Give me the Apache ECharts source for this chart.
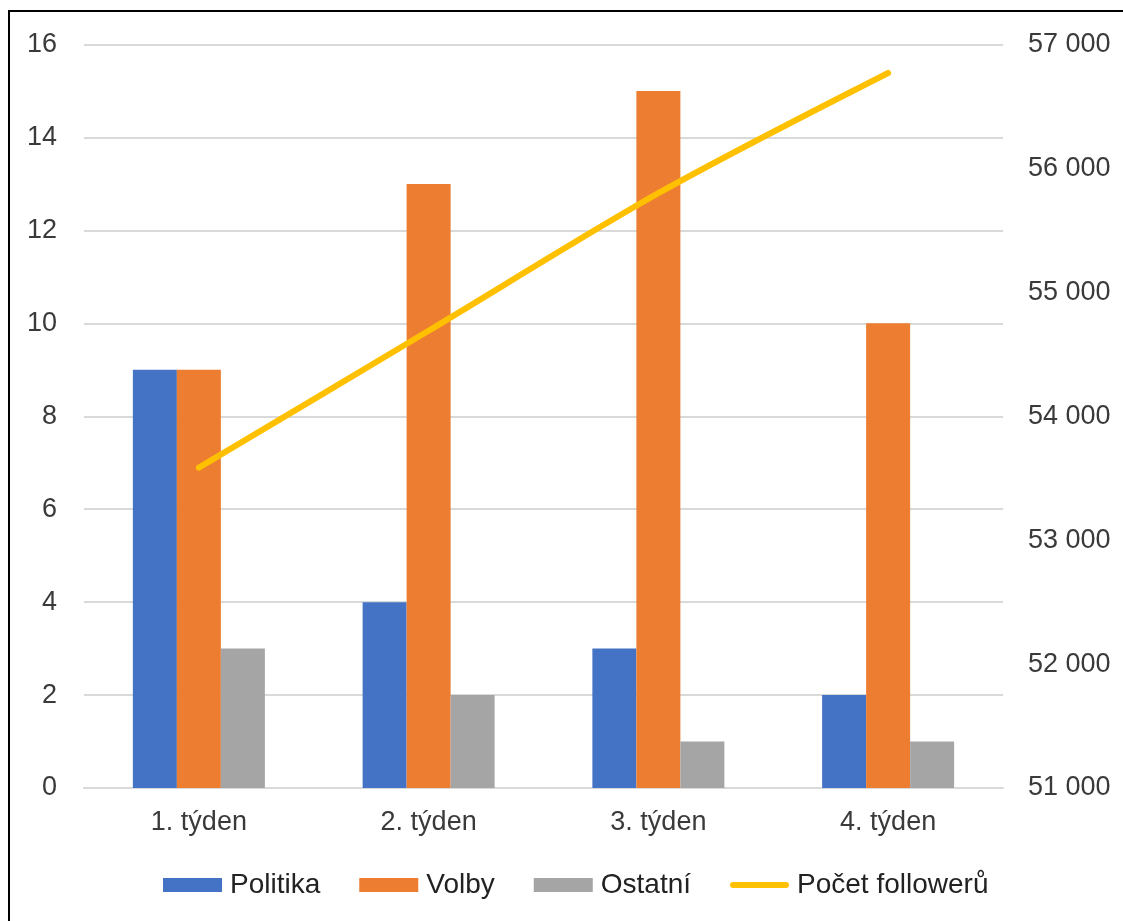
<!DOCTYPE html>
<html>
<head>
<meta charset="utf-8">
<title>Příspěvky a počet followerů</title>
<script src="https://cdn.jsdelivr.net/npm/echarts@6/dist/echarts.min.js"></script>
<style>
  html, body { margin: 0; padding: 0; background: #ffffff; }
  #chart { width: 1123px; height: 921px; }
</style>
</head>
<body>
<div id="chart"></div>
<script>
// Weekly post counts by topic and the follower count
const weeks = ['1. týden', '2. týden', '3. týden', '4. týden'];
const politika = [9, 4, 3, 2];
const volby = [9, 13, 15, 10];
const ostatni = [3, 2, 1, 1];
const followers = [53585, 54690, 55800, 56770];

const seriesNames = ['Politika', 'Volby', 'Ostatní', 'Počet followerů'];
const colors = ['#4472C4', '#ED7D31', '#A5A5A5', '#FFC000'];

const FONT = '"Liberation Sans", Arial, sans-serif';
const AXIS_TEXT = '#3a3a3a';
const GRID_LINE = '#d9d9d9';

// rounded bar used as the legend marker of the follower line
const LINE_ICON = 'path://M3,0 L57,0 A3,3 0 0 1 57,6 L3,6 A3,3 0 0 1 3,0 Z';

function spaced(v) {
  return String(Math.round(v)).replace(/\B(?=(\d{3})+(?!\d))/g, ' ');
}

const chart = echarts.init(document.getElementById('chart'), null, { renderer: 'canvas' });

chart.setOption({
  animation: false,
  backgroundColor: '#ffffff',
  color: colors,
  textStyle: { fontFamily: FONT },
  graphic: [{
    type: 'rect',
    silent: true,
    shape: { x: 9, y: 11, width: 1200, height: 1000 },
    style: { fill: 'none', stroke: '#000000', lineWidth: 2 }
  }],
  grid: { left: 84, right: 120, top: 44.5, bottom: 133, containLabel: false },
  legend: {
    left: 158,
    top: 866,
    itemWidth: 59,
    itemHeight: 14,
    itemGap: 39,
    data: [
      { name: seriesNames[0], icon: 'rect' },
      { name: seriesNames[1], icon: 'rect' },
      { name: seriesNames[2], icon: 'rect' },
      { name: seriesNames[3], icon: LINE_ICON, itemStyle: { color: colors[3] } }
    ],
    textStyle: { fontFamily: FONT, fontSize: 28, color: '#222222', padding: [0, 0, 0, 3] }
  },
  xAxis: {
    type: 'category',
    data: weeks,
    axisTick: { show: false },
    axisLine: { show: true, lineStyle: { color: GRID_LINE, width: 2 } },
    axisLabel: { fontFamily: FONT, fontSize: 27, color: AXIS_TEXT, margin: 21 }
  },
  yAxis: [{
    type: 'value',
    min: 0,
    max: 16,
    interval: 2,
    axisLine: { show: false },
    axisTick: { show: false },
    splitLine: { lineStyle: { color: GRID_LINE, width: 2 } },
    axisLabel: { fontFamily: FONT, fontSize: 27, color: AXIS_TEXT, margin: 27 }
  }, {
    type: 'value',
    min: 51000,
    max: 57000,
    interval: 1000,
    position: 'right',
    axisLine: { show: false },
    axisTick: { show: false },
    splitLine: { show: false },
    axisLabel: { fontFamily: FONT, fontSize: 27, color: AXIS_TEXT, margin: 25, formatter: spaced }
  }],
  series: [
    { name: seriesNames[0], type: 'bar', data: politika, barWidth: 44, barGap: '0%', itemStyle: { color: colors[0] } },
    { name: seriesNames[1], type: 'bar', data: volby, barWidth: 44, barGap: '0%', itemStyle: { color: colors[1] } },
    { name: seriesNames[2], type: 'bar', data: ostatni, barWidth: 44, barGap: '0%', itemStyle: { color: colors[2] } },
    {
      name: seriesNames[3],
      type: 'line',
      yAxisIndex: 1,
      data: followers,
      smooth: 0.3,
      symbol: 'none',
      lineStyle: { color: colors[3], width: 6, cap: 'round' },
      itemStyle: { color: colors[3] },
      z: 5
    }
  ]
});
</script>
</body>
</html>
